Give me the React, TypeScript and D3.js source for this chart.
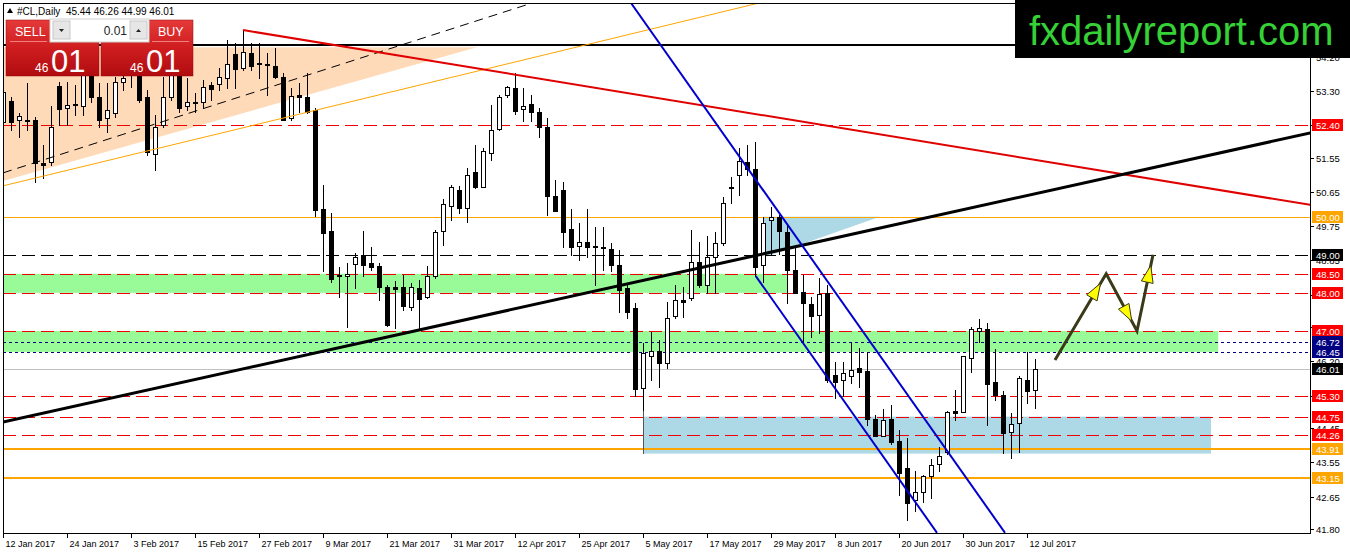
import React from 'react';
import * as d3 from 'd3';

// ---- Daily OHLC, #CL, 12 Jan 2017 .. 13 Jul 2017 (bar index 0..129) ----
const opens = [
  52.49, 53.04, 52.54, 52.54, 52.54, 51.40, 51.43, 53.43, 52.85, 52.96,
  52.91, 53.80, 53.15, 52.58, 52.73, 53.54, 53.95, 53.85, 53.15, 51.65,
  52.41, 53.15, 53.69, 52.91, 53.02, 53.02, 53.46, 53.48, 53.63, 54.27,
  53.90, 54.31, 54.03, 54.01, 53.96, 53.68, 52.58, 53.20, 53.15, 52.80,
  50.20, 49.63, 48.47, 48.43, 48.75, 49.00, 48.79, 48.71, 48.16, 48.16,
  48.16, 47.64, 48.12, 47.89, 48.43, 49.63, 50.29, 50.70, 50.22, 51.17,
  50.79, 51.66, 52.29, 53.20, 53.37, 52.82, 52.95, 52.74, 52.35, 50.54,
  50.70, 49.67, 49.23, 49.34, 49.23, 49.21, 49.15, 48.73, 48.12, 47.60,
  45.50, 46.33, 46.48, 46.17, 47.38, 47.81, 47.86, 48.82, 48.21, 48.93,
  49.30, 50.77, 51.10, 51.43, 51.24, 48.73, 49.90, 49.99, 49.61, 48.60,
  48.03, 47.71, 47.42, 47.99, 45.85, 45.71, 45.82, 46.02, 45.95, 44.68,
  44.24, 44.68, 44.11, 43.40, 42.55, 42.78, 43.18, 43.51, 43.81, 44.90,
  44.88, 46.28, 47.01, 47.05, 45.67, 45.32, 44.34, 44.58, 45.71, 45.44,
];
const highs = [
  53.46, 53.15, 52.72, 53.51, 52.63, 51.88, 52.91, 53.54, 53.54, 53.46,
  54.00, 54.00, 53.51, 53.51, 53.68, 53.85, 54.10, 54.00, 53.33, 52.67,
  53.68, 54.00, 53.90, 53.64, 53.25, 53.59, 53.54, 53.90, 54.64, 54.57,
  54.90, 54.55, 54.55, 54.29, 54.42, 53.78, 53.37, 53.50, 53.76, 52.85,
  50.83, 50.10, 48.69, 48.79, 49.05, 49.63, 49.21, 48.79, 48.20, 48.32,
  48.47, 48.26, 48.34, 48.71, 49.65, 50.46, 50.82, 50.81, 51.27, 51.88,
  51.80, 52.93, 53.20, 53.43, 53.76, 53.37, 53.20, 52.85, 52.58, 50.96,
  50.92, 50.20, 49.83, 50.20, 49.74, 49.74, 49.30, 49.13, 48.21, 47.73,
  46.68, 46.98, 46.76, 47.77, 48.21, 48.16, 49.65, 49.34, 49.49, 49.61,
  50.53, 51.05, 51.80, 51.88, 51.97, 49.99, 50.26, 50.05, 49.78, 49.20,
  48.47, 47.90, 48.38, 48.21, 46.19, 46.19, 46.68, 46.55, 46.46, 44.80,
  44.95, 45.05, 44.40, 44.18, 43.31, 43.22, 43.63, 43.96, 44.90, 45.45,
  46.34, 47.10, 47.31, 47.22, 46.52, 45.43, 44.84, 45.82, 46.46, 46.26,
];
const lows = [
  52.33, 52.28, 52.10, 52.28, 50.92, 51.02, 51.36, 52.41, 52.41, 52.67,
  52.67, 53.02, 52.36, 52.23, 52.63, 53.33, 53.41, 53.00, 51.62, 51.23,
  52.36, 53.06, 52.76, 52.80, 52.76, 52.89, 53.06, 53.33, 53.37, 53.37,
  53.85, 53.85, 53.63, 53.20, 53.63, 52.54, 52.54, 52.76, 52.71, 50.02,
  48.58, 48.29, 47.90, 47.11, 48.13, 48.43, 48.60, 47.81, 47.14, 47.07,
  47.55, 47.55, 47.03, 47.86, 48.38, 49.26, 49.90, 50.09, 49.87, 50.75,
  50.77, 51.49, 52.28, 53.15, 52.70, 52.52, 52.52, 52.08, 50.05, 50.16,
  49.21, 48.99, 48.86, 48.95, 48.21, 48.60, 48.58, 47.50, 47.33, 45.28,
  44.93, 45.71, 45.54, 46.02, 47.33, 47.36, 47.81, 48.16, 47.99, 47.99,
  49.26, 50.37, 50.57, 51.10, 48.43, 48.29, 48.99, 49.02, 47.73, 47.99,
  46.72, 46.85, 46.94, 45.67, 45.23, 45.28, 45.63, 45.54, 44.53, 44.23,
  44.23, 44.03, 42.70, 42.04, 42.28, 42.52, 42.61, 43.31, 43.77, 44.66,
  44.86, 45.91, 46.72, 44.53, 45.19, 43.79, 43.66, 43.83, 45.12, 44.99,
];
const closes = [
  53.27, 52.49, 52.64, 52.50, 51.41, 51.37, 52.36, 52.83, 52.93, 52.92,
  53.80, 53.15, 52.54, 52.80, 53.54, 53.63, 53.72, 53.06, 51.71, 52.36,
  53.15, 53.80, 52.85, 53.02, 52.99, 53.41, 53.35, 53.68, 54.01, 53.87,
  54.33, 53.96, 54.00, 53.98, 53.66, 52.54, 53.17, 53.15, 52.76, 50.18,
  49.58, 48.37, 48.43, 48.49, 48.95, 48.73, 48.69, 48.16, 47.16, 48.11,
  47.66, 48.16, 47.83, 48.43, 49.61, 50.33, 50.77, 50.22, 51.10, 50.79,
  51.73, 52.28, 53.13, 53.40, 52.78, 52.90, 52.74, 52.35, 50.55, 50.16,
  49.61, 49.20, 49.34, 49.20, 49.21, 49.17, 48.73, 48.08, 47.51, 45.47,
  46.42, 46.48, 46.17, 47.33, 47.81, 47.77, 48.80, 48.21, 48.95, 49.32,
  50.35, 50.75, 51.47, 51.24, 48.67, 49.83, 49.99, 49.63, 48.60, 47.99,
  47.73, 47.38, 47.97, 45.71, 45.67, 45.89, 45.98, 45.93, 44.68, 44.24,
  44.66, 44.09, 43.28, 42.48, 42.78, 43.18, 43.48, 43.72, 44.88, 44.84,
  46.33, 47.05, 47.07, 45.61, 45.32, 44.32, 44.56, 45.76, 45.43, 46.01,
];

// ---- axis labels ----
const dateLabels = [
  '12 Jan 2017', '24 Jan 2017', '3 Feb 2017', '15 Feb 2017', '27 Feb 2017',
  '9 Mar 2017', '21 Mar 2017', '31 Mar 2017', '12 Apr 2017', '25 Apr 2017',
  '5 May 2017', '17 May 2017', '29 May 2017', '8 Jun 2017', '20 Jun 2017',
  '30 Jun 2017', '12 Jul 2017',
];
const dateLabelStep = 8;
const priceTicks = [
  '54.20', '53.30', '52.40', '51.55', '50.65', '49.75', '48.85', '47.95',
  '47.10', '46.20', '45.30', '44.45', '43.55', '42.65', '41.80',
];

// ---- horizontal levels (price, kind) ----
const levelPrices = [52.40, 50.00, 49.00, 48.50, 48.00, 47.00, 46.72, 46.45, 46.01, 45.30, 44.75, 44.26, 43.91, 43.15];
const levelKinds = ['red', 'orange', 'black', 'red', 'red', 'red', 'navy', 'navy', 'bid', 'red', 'red', 'red', 'orange2', 'orange2'];
const topResistance = 54.52;

// ---- drawn objects in (bar index, price) ----
const redTrend: [number, number][] = [[30, 54.90], [163.4, 50.31]];
const blackTrend: [number, number][] = [[0, 44.61], [163.4, 52.20]];
const orangeChannel: [number, number][] = [[0, 50.81], [100, 55.89]];
const dashedChannel: [number, number][] = [[0, 51.15], [70, 55.87]];
const peachZone: [number, number][] = [[0, 54.45], [59.25, 54.45], [0, 50.94]];
const blueUpper: [number, number][] = [[78.5, 55.61], [125.25, 41.70]];
const blueLower: [number, number][] = [[94.1, 48.44], [116.75, 41.70]];
const blueTriangle: [number, number][] = [[95, 50.0], [109.6, 50.0], [95, 48.92]];
const greenZoneStart = [-1, -1];
const greenZoneEnd = [98.1, 151.9];
const greenZoneLow = [48.00, 46.45];
const greenZoneHigh = [48.50, 47.00];
const supportBox = { start: 80, end: 151, low: 43.78, high: 44.75 };
const boxEdge: [number, number][] = [[80, 45.30], [80, 43.78]];
const scenarioPath: [number, number][] = [[131.5, 46.24], [137.9, 48.50], [141.75, 47.00], [143.75, 49.00]];

const header = '#CL,Daily  45.44 46.26 44.99 46.01';

const W = 1350;
const H = 554;
const PL = 3, PT = 3, PR = 1310, PB = 533;
const FONT = '"Liberation Sans", Arial, sans-serif';

const lineStyle: Record<string, { stroke: string; width: number; dash?: string; box: string }> = {
  red: { stroke: '#f00000', width: 1, dash: '13,6', box: '#ff0000' },
  orange: { stroke: '#ffa500', width: 1, box: '#ffa500' },
  black: { stroke: '#000000', width: 1, dash: '13,6', box: '#000000' },
  navy: { stroke: '#000080', width: 1, dash: '3,3', box: '#000080' },
  bid: { stroke: '#c0c0c0', width: 1, box: '#000000' },
  orange2: { stroke: '#ffa500', width: 2, box: '#ffa500' },
};

export default function App() {
  const x = d3.scaleLinear().domain([0, 129]).range([3, 1035]);
  const y = d3.scaleLinear().domain([41.8, 53.3]).range([529, 91]);
  const line = d3.line<[number, number]>().x((d) => x(d[0])).y((d) => y(d[1]));
  const poly = (pts: [number, number][]) => line(pts) + 'Z';

  // arrowheads for the scenario path
  const pp = scenarioPath.map((d) => [x(d[0]), y(d[1])]);
  const heads: string[] = [];
  for (let k = 1; k < pp.length; k++) {
    const [x0, y0] = pp[k - 1];
    const [x1, y1] = pp[k];
    const len = Math.hypot(x1 - x0, y1 - y0);
    const ux = (x1 - x0) / len, uy = (y1 - y0) / len;
    const tx = x1 - ux * 11, ty = y1 - uy * 11;
    const bx = tx - ux * 17, by = ty - uy * 17;
    const nx = -uy * 6, ny = ux * 6;
    heads.push(`M${tx},${ty}L${bx + nx},${by + ny}L${bx - nx},${by - ny}Z`);
  }

  return (
    <svg width={W} height={H} style={{ position: 'fixed', left: 0, top: 0, background: '#fff' }} fontFamily={FONT}>
      <defs>
        <clipPath id="plot">
          <rect x={PL} y={PT} width={PR - PL} height={PB - PT} />
        </clipPath>
        <linearGradient id="redg" x1="0" y1="0" x2="0" y2="1">
          <stop offset="0" stopColor="#e53a3a" />
          <stop offset="0.5" stopColor="#cf1d1f" />
          <stop offset="1" stopColor="#b00c10" />
        </linearGradient>
      </defs>
      <rect x={0} y={0} width={W} height={H} fill="#fff" />

      <g clipPath="url(#plot)">
        {/* filled zones */}
        <path d={poly(peachZone)} fill="#ffdab9" />
        {greenZoneStart.map((s, k) => (
          <rect key={k} x={x(s)} y={y(greenZoneHigh[k])} width={x(greenZoneEnd[k]) - x(s)}
            height={y(greenZoneLow[k]) - y(greenZoneHigh[k])} fill="#98fb98" />
        ))}
        <rect x={x(supportBox.start)} y={y(supportBox.high)} width={x(supportBox.end) - x(supportBox.start)}
          height={y(supportBox.low) - y(supportBox.high)} fill="#add8e6" />
        <path d={poly(blueTriangle)} fill="#add8e6" />

        {/* horizontal levels */}
        <line x1={PL} x2={PR} y1={Math.round(y(topResistance))} y2={Math.round(y(topResistance))} stroke="#000" strokeWidth={2} />
        {levelPrices.map((p, k) => {
          const st = lineStyle[levelKinds[k]];
          const yy = Math.round(y(p)) + (st.width === 1 ? 0.5 : 0);
          return (
            <line key={k} x1={PL} x2={PR} y1={yy} y2={yy} stroke={st.stroke} strokeWidth={st.width}
              strokeDasharray={st.dash} shapeRendering="crispEdges" />
          );
        })}
        <path d={line(boxEdge) || ''} stroke="#555" strokeWidth={1} fill="none" shapeRendering="crispEdges" />

        {/* candles */}
        <g shapeRendering="crispEdges">
          {opens.map((o, i) => {
            const c = closes[i];
            const xi = Math.round(x(i));
            const bull = c >= o;
            const yTop = Math.round(y(Math.max(o, c)));
            const yBot = Math.round(y(Math.min(o, c)));
            const hgt = yBot - yTop;
            return (
              <g key={i}>
                <line x1={xi + 0.5} x2={xi + 0.5} y1={Math.round(y(highs[i]))} y2={Math.round(y(lows[i])) + 1} stroke="#000" />
                {hgt >= 1 ? (
                  <rect x={xi - 1.5} y={yTop + 0.5} width={4} height={hgt} fill={bull ? '#fff' : '#000'} stroke="#000" />
                ) : (
                  <line x1={xi - 2} x2={xi + 3} y1={yTop + 0.5} y2={yTop + 0.5} stroke="#000" />
                )}
              </g>
            );
          })}
        </g>

        {/* trend lines */}
        <path d={line(orangeChannel) || ''} stroke="#ffa500" strokeWidth={1} fill="none" />
        <path d={line(dashedChannel) || ''} stroke="#000" strokeWidth={1} strokeDasharray="9,6" fill="none" />
        <path d={line(redTrend) || ''} stroke="#e00000" strokeWidth={2} fill="none" />
        <path d={line(blackTrend) || ''} stroke="#000" strokeWidth={3} fill="none" />
        <path d={line(blueUpper) || ''} stroke="#0000cd" strokeWidth={2} fill="none" />
        <path d={line(blueLower) || ''} stroke="#0000cd" strokeWidth={2} fill="none" />

        {/* scenario arrows */}
        <path d={line(scenarioPath) || ''} stroke="#3a3a18" strokeWidth={3} fill="none" strokeLinejoin="miter" />
        {heads.map((d, k) => (
          <path key={k} d={d} fill="#ffff00" stroke="#3a3a18" strokeWidth={1} />
        ))}
      </g>

      {/* frame */}
      <rect x={PL + 0.5} y={PT + 0.5} width={PR - PL} height={PB - PT} fill="none" stroke="#000" shapeRendering="crispEdges" />

      {/* price axis */}
      <g fontSize={9.5} shapeRendering="crispEdges">
        {priceTicks.map((t) => {
          const yy = Math.round(y(+t)) + 0.5;
          return (
            <g key={t}>
              <line x1={PR} x2={PR + 4} y1={yy} y2={yy} stroke="#000" />
              <text x={PR + 6} y={yy} dy="0.35em" fill="#000">{t}</text>
            </g>
          );
        })}
        {levelPrices.map((p, k) => {
          const st = lineStyle[levelKinds[k]];
          const yy = Math.round(y(p));
          return (
            <g key={'b' + k}>
              <rect x={PR + 2} y={yy - 6} width={31} height={12} fill={st.box} />
              <text x={PR + 6} y={yy + 0.5} dy="0.35em" fill="#fff">{p.toFixed(2)}</text>
            </g>
          );
        })}
      </g>

      {/* time axis */}
      <g fontSize={9} shapeRendering="crispEdges">
        {dateLabels.map((lab, k) => {
          const xi = Math.round(x(k * dateLabelStep)) + 0.5;
          return (
            <g key={lab}>
              <line x1={xi} x2={xi} y1={PB} y2={PB + 5} stroke="#000" />
              <text x={xi + 2} y={547} fill="#000">{lab}</text>
            </g>
          );
        })}
      </g>

      {/* header */}
      <path d="M7,13 L10,8 L13,13 Z" fill="#000" />
      <text x={17} y={15} fontSize={10} fill="#000" style={{ whiteSpace: 'pre' }}>{header}</text>

      {/* one-click trading panel */}
      <g>
        <rect x={6} y={20} width={93} height={56} fill="url(#redg)" stroke="#9a0a0a" strokeWidth={0.5} />
        <rect x={101} y={20} width={92} height={56} fill="url(#redg)" stroke="#9a0a0a" strokeWidth={0.5} />
        <rect x={50} y={19} width={99} height={23} fill="#fff" stroke="#d0d0d0" />
        <rect x={53} y={21} width={17} height={18} fill="#e6e6e6" stroke="#c8c8c8" />
        <rect x={130} y={21} width={17} height={18} fill="#e6e6e6" stroke="#c8c8c8" />
        <path d="M59,29 L64,29 L61.5,32 Z" fill="#222" />
        <path d="M136,32 L141,32 L138.5,29 Z" fill="#222" />
        <text x={127} y={35} fontSize={12} textAnchor="end" fill="#222">0.01</text>
        <line x1={10} x2={47} y1={41.5} y2={41.5} stroke="#f08080" />
        <line x1={152} x2={189} y1={41.5} y2={41.5} stroke="#f08080" />
        <text x={15} y={36} fontSize={12.5} fill="#fff">SELL</text>
        <text x={158} y={36} fontSize={12.5} fill="#fff">BUY</text>
        <text x={35} y={72} fontSize={12} fill="#fff">46</text>
        <text x={51} y={72} fontSize={31} fill="#fff">01</text>
        <text x={130} y={72} fontSize={12} fill="#fff">46</text>
        <text x={146} y={72} fontSize={31} fill="#fff">01</text>
      </g>

      {/* watermark */}
      <rect x={1015} y={0} width={335} height={58} fill="#000" />
      <text x={1029} y={45} fontSize={40} fill="#36d136" fontFamily={'"Liberation Sans", Arial, sans-serif'}>fxdailyreport.com</text>
    </svg>
  );
}
